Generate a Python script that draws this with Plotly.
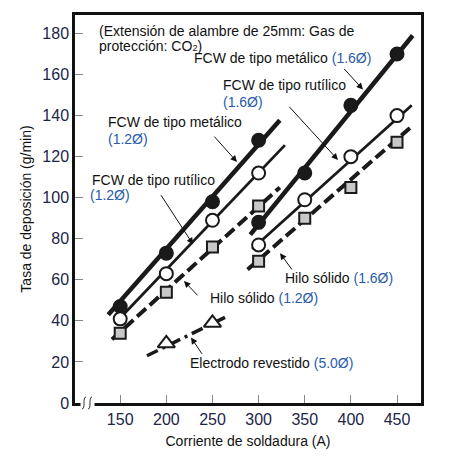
import plotly.graph_objects as go

# --- datos ---
corriente_12 = [150, 200, 250, 300]
corriente_16 = [300, 350, 400, 450]
corriente_50 = [200, 250]

metalico_12 = [47, 73, 98, 128]
rutilico_12 = [41, 63, 89, 112]
solido_12 = [34, 54, 76, 96]
metalico_16 = [88, 112, 145, 170]
rutilico_16 = [77, 99, 120, 140]
solido_16 = [69, 90, 105, 127]
electrodo_50 = [29, 39]

# rectas de ajuste (extremos)
recta_metalico_12 = ([137, 323], [43, 137.7])
recta_rutilico_12 = ([144, 328.5], [38.6, 125.6])
recta_solido_12 = ([141, 323], [31, 105])
recta_metalico_16 = ([291, 467], [82, 179])
recta_rutilico_16 = ([293, 466], [75, 145])
recta_solido_16 = ([288, 464], [65, 134])
recta_electrodo_50 = ([179, 267], [23, 42.5])

x_ticks = [150, 200, 250, 300, 350, 400, 450]
y_ticks = [0, 20, 40, 60, 80, 100, 120, 140, 160, 180]

FONT = "Liberation Sans, Arial, sans-serif"
AZUL = "#2a5ca8"
NAVY = "#1c2548"

fig = go.Figure()

lineas = [
    (recta_metalico_12, 4.5, "solid"),
    (recta_rutilico_12, 2.8, "solid"),
    (recta_solido_12, 4, "12px,5px"),
    (recta_metalico_16, 4.5, "solid"),
    (recta_rutilico_16, 2.8, "solid"),
    (recta_solido_16, 4, "12px,5px"),
    (recta_electrodo_50, 3.5, "12px,5px,3px,5px"),
]
for (lx, ly), w, d in lineas:
    fig.add_trace(go.Scatter(x=lx, y=ly, mode="lines",
                             line=dict(color="#1a1a1a", width=w, dash=d),
                             showlegend=False, hoverinfo="skip"))

def puntos(x, y, symbol, fill, size):
    fig.add_trace(go.Scatter(
        x=x, y=y, mode="markers", showlegend=False,
        marker=dict(symbol=symbol, size=size, color=fill,
                    line=dict(color="#1a1a1a", width=2))))

puntos(corriente_12, metalico_12, "circle", "#1a1a1a", 13)
puntos(corriente_16, metalico_16, "circle", "#1a1a1a", 13)
puntos(corriente_12, rutilico_12, "circle", "white", 13)
puntos(corriente_16, rutilico_16, "circle", "white", 13)
puntos(corriente_12, solido_12, "square", "#c8c8c8", 11)
puntos(corriente_16, solido_16, "square", "#c8c8c8", 11)
puntos(corriente_50, electrodo_50, "triangle-up", "white", 15)

def azul(t):
    return f"<span style='color:{AZUL}'>{t}</span>"

textos = [
    (124.8, 181.2, "(Extensión de alambre de 25mm: Gas de"),
    (124.8, 174.0, "protección: CO<span style='font-size:9px'>2</span>)"),
    (227.8, 168.2, "FCW de tipo metálico " + azul("(1.6Ø)")),
    (259.2, 154.7, "FCW de tipo rutílico"),
    (259.2, 146.4, azul("(1.6Ø)")),
    (134.6, 136.8, "FCW de tipo metálico"),
    (134.6, 128.6, azul("(1.2Ø)")),
    (117.3, 108.7, "FCW de tipo rutílico"),
    (115.1, 101.5, azul("(1.2Ø)")),
    (245.1, 51.2, "Hilo sólido " + azul("(1.2Ø)")),
    (326.4, 60.9, "Hilo sólido " + azul("(1.6Ø)")),
    (223.5, 19.3, "Electrodo revestido " + azul("(5.0Ø)")),
]
for x, y, t in textos:
    fig.add_annotation(x=x, y=y, text=t, showarrow=False, xanchor="left",
                       yanchor="middle", font=dict(family=FONT, size=14, color="#111"))

flechas = [
    ((391.5, 163.4), (413.1, 152.7)),
    ((331.8, 145.0), (386.0, 118.4)),
    ((250.6, 130.5), (276.6, 117.4)),
    ((193.1, 102.0), (228.9, 77.3)),
    ((235.4, 51.7), (219.1, 59.4)),
    ((337.3, 64.3), (323.2, 73.0)),
    ((239.7, 23.2), (226.7, 31.9)),
]
for (tx, ty), (hx, hy) in flechas:
    fig.add_annotation(x=hx, y=hy, ax=tx, ay=ty, axref="x", ayref="y",
                       text="", showarrow=True, arrowhead=2, arrowsize=1.3,
                       arrowwidth=1, arrowcolor="#111")

# la página tiene 8 px de margen en el body: se compensa
W, H, L, T, B = 346, 391, 67, 4, 395
def px(x):
    return (x - 8 - L) / W
def py(y):
    return (B - (y - 8)) / H

# corte del eje x
fig.add_shape(type="rect", xref="paper", yref="paper",
              x0=px(80.5), x1=px(94.5), y0=py(407), y1=py(399),
              fillcolor="white", line=dict(width=0), layer="above")
for x0 in (82, 88):
    path = (f"M {px(x0)},{py(409)} C {px(x0+4)},{py(409)} {px(x0)},{py(397)} "
            f"{px(x0+4)},{py(397)}")
    fig.add_shape(type="path", xref="paper", yref="paper", path=path,
                  line=dict(color="#333", width=1), layer="above")

fig.update_xaxes(range=[101, 476], tickvals=x_ticks, ticks="inside", ticklen=8,
                 tickcolor="#888", tickwidth=1, showline=True, linecolor="#111",
                 linewidth=2.5, mirror=True, showgrid=False, zeroline=False,
                 tickfont=dict(family=FONT, size=16, color=NAVY),
                 title=dict(text="Corriente de soldadura (A)", standoff=10,
                            font=dict(family=FONT, size=14, color="#111")))
fig.update_yaxes(range=[0, 189], tickvals=y_ticks, ticks="inside", ticklen=8,
                 tickcolor="#888", tickwidth=1, showline=True, linecolor="#111",
                 linewidth=2.5, mirror=True, showgrid=False, zeroline=False,
                 tickfont=dict(family=FONT, size=16, color=NAVY),
                 title=dict(text="Tasa de deposición (g/min)", standoff=8,
                            font=dict(family=FONT, size=14, color="#111")))

fig.update_layout(width=439, height=445, plot_bgcolor="white", paper_bgcolor="white",
                  margin=dict(l=L, r=439 - L - W, t=T, b=445 - T - H),
                  showlegend=False)

fig.write_html("out.html")
